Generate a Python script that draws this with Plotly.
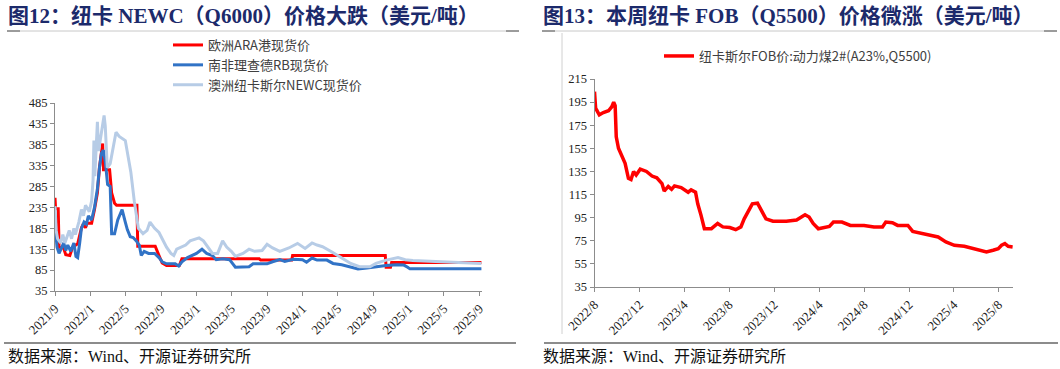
import plotly.graph_objects as go

# ---------------- Data: left chart (USD/t) ----------------
ara_dates = ["2021-09-01","2021-09-03","2021-09-12","2021-09-15","2021-10-01","2021-10-08","2021-10-22",
             "2021-11-01","2021-11-18","2021-12-01","2021-12-08","2021-12-15","2021-12-20","2022-01-05",
             "2022-01-15","2022-01-25","2022-02-01","2022-02-07","2022-02-12","2022-02-15","2022-03-08",
             "2022-03-15","2022-03-25","2022-04-01","2022-06-10","2022-06-13","2022-08-12","2022-08-25",
             "2022-09-05","2022-09-20","2022-11-03","2022-11-12","2023-08-05","2023-08-10","2023-11-25",
             "2023-11-28","2024-10-12","2024-10-15","2024-10-30","2024-11-03","2025-09-08"]
ara_vals = [258,232,232,140,137,122,120,
            140,148,186,196,186,197,197,
            230,270,330,370,388,325,325,
            270,245,240,240,142,142,120,
            102,96,96,112,112,109,109,
            120,120,92,92,103,103]

rb_dates = ["2021-09-01","2021-09-08","2021-09-15","2021-09-22","2021-10-01","2021-10-08","2021-10-15",
            "2021-10-25","2021-11-05","2021-11-12","2021-11-18","2021-11-25","2021-12-01","2021-12-10",
            "2021-12-18","2021-12-25","2022-01-05","2022-01-15","2022-01-25","2022-02-01","2022-02-08",
            "2022-02-15","2022-02-22","2022-03-01","2022-03-10","2022-03-15","2022-03-25","2022-04-05",
            "2022-04-20","2022-05-01","2022-05-08","2022-05-18","2022-05-28","2022-06-08","2022-06-18",
            "2022-06-25","2022-07-05","2022-07-20","2022-08-10","2022-08-25","2022-09-05","2022-09-20",
            "2022-10-20","2022-11-01","2022-11-12","2022-12-01","2022-12-15","2023-01-01","2023-01-20",
            "2023-02-05","2023-02-25","2023-03-10","2023-04-01","2023-04-25","2023-05-15","2023-06-15",
            "2023-07-01","2023-07-15","2023-09-01","2023-09-20","2023-10-15","2023-11-01","2023-12-01",
            "2024-01-01","2024-01-15","2024-02-03","2024-02-20","2024-03-25","2024-04-15","2024-05-15",
            "2024-06-20","2024-07-10","2024-08-10","2024-09-10","2024-10-15","2024-11-20","2024-12-15",
            "2024-12-28","2025-01-05","2025-09-08"]
rb_vals = [194,140,125,135,150,132,145,
           130,150,118,115,150,185,200,
           195,215,205,235,280,330,365,
           372,340,290,285,172,172,205,
           230,200,182,165,163,155,145,
           120,130,125,125,115,105,100,
           100,95,105,115,120,125,135,
           125,120,110,112,110,92,92,
           93,100,100,105,110,106,111,
           110,104,114,109,109,101,98,
           92,88,90,93,96,98,97,
           92,88,88]

newc_dates = ["2021-09-01","2021-09-05","2021-09-10","2021-09-20","2021-09-28","2021-10-05","2021-10-20",
              "2021-10-28","2021-11-05","2021-11-10","2021-11-22","2021-12-01","2021-12-08","2021-12-15",
              "2021-12-28","2022-01-05","2022-01-10","2022-01-13","2022-01-16","2022-01-25","2022-01-29",
              "2022-02-08","2022-02-17","2022-02-21","2022-02-28","2022-03-10","2022-03-30","2022-04-10",
              "2022-05-01","2022-05-20","2022-06-01","2022-06-15","2022-07-01","2022-07-15","2022-07-25",
              "2022-08-10","2022-08-25","2022-09-05","2022-09-20","2022-10-05","2022-10-15","2022-10-25",
              "2022-11-10","2022-11-25","2022-12-10","2022-12-25","2023-01-10","2023-01-25","2023-02-10",
              "2023-02-25","2023-03-15","2023-04-01","2023-04-15","2023-05-01","2023-05-15","2023-06-10",
              "2023-07-01","2023-07-20","2023-08-15","2023-09-01","2023-09-20","2023-10-15","2023-11-15",
              "2023-12-15","2024-01-10","2024-02-03","2024-02-20","2024-03-10","2024-04-10","2024-05-15",
              "2024-06-15","2024-07-15","2024-08-20","2024-09-10","2024-10-15","2024-11-25","2024-12-20",
              "2025-01-15","2025-05-01","2025-09-08"]
newc_vals = [238,180,160,150,170,150,180,
             160,185,170,200,230,215,240,
             225,250,300,395,310,440,370,
             420,455,430,330,340,415,405,
             395,320,250,185,172,180,200,
             185,175,160,140,125,120,135,
             140,145,155,158,162,155,140,
             125,125,155,140,130,118,125,
             135,130,132,147,138,130,138,
             149,137,150,145,141,129,113,
             101,93,93,101,109,115,110,
             108,105,101]

# ---------------- Data: right chart (USD/t) ----------------
fob_dates = ["2022-08-01","2022-08-04","2022-08-07","2022-08-14","2022-08-25","2022-09-08","2022-09-17",
             "2022-09-22","2022-09-26","2022-09-29","2022-10-05","2022-10-14","2022-10-23","2022-11-01",
             "2022-11-08","2022-11-15","2022-11-22","2022-12-03","2022-12-20","2023-01-04","2023-01-17",
             "2023-01-31","2023-02-06","2023-02-17","2023-02-26","2023-03-06","2023-03-24","2023-04-12",
             "2023-04-20","2023-05-02","2023-05-08","2023-05-17","2023-05-26","2023-06-14","2023-07-01",
             "2023-07-15","2023-08-03","2023-08-19","2023-09-02","2023-09-11","2023-09-23","2023-10-03",
             "2023-10-17","2023-10-23","2023-10-31","2023-11-09","2023-11-28","2024-01-03","2024-01-31",
             "2024-02-09","2024-02-23","2024-03-05","2024-03-16","2024-03-30","2024-04-12","2024-04-29",
             "2024-05-10","2024-06-02","2024-06-25","2024-08-01","2024-08-28","2024-09-20","2024-09-29",
             "2024-10-17","2024-10-31","2024-11-28","2024-12-11","2025-01-03","2025-01-31","2025-02-18",
             "2025-03-11","2025-04-03","2025-04-30","2025-05-27","2025-06-15","2025-06-29","2025-07-17",
             "2025-07-31","2025-08-09","2025-08-18","2025-08-27","2025-09-08"]
fob_vals = [204,190,188,184,186,187.5,191,
            195,192,165,155,148,142,129,
            128,135,132,137,135,131,129.5,
            124.5,118,122,119.5,122.5,121,117,
            119,117,107,97,85.5,85.5,90,
            87,86.5,84.6,87,94,101,107,
            107.5,104,98,94,92,92,93,
            94.6,97.5,95.5,90,85.4,86.3,87.4,
            91.2,91.2,88.3,88.3,86.9,86.9,91.2,
            90.6,88.3,88.3,83.1,81.7,79.7,78.3,
            74,71.1,70.2,68.2,66.2,65.4,66.8,
            68.2,71.1,72.5,70.2,69.7]

left_names = ["欧洲ARA港现货价", "南非理查德RB现货价", "澳洲纽卡斯尔NEWC现货价"]
right_name = "纽卡斯尔FOB价:动力煤2#(A23%,Q5500)"
title_left = "图12：纽卡 NEWC（Q6000）价格大跌（美元/吨）"
title_right = "图13：本周纽卡 FOB（Q5500）价格微涨（美元/吨）"
source_text = "数据来源：Wind、开源证券研究所"

W, H = 1060, 369
SERIF = "Liberation Serif, Noto Sans CJK SC"
CJK = "Noto Sans CJK SC"

def px(x):
    return x / W

def py(y):
    return 1 - y / H

fig = go.Figure()
fig.add_trace(go.Scatter(x=ara_dates, y=ara_vals, name=left_names[0], mode="lines",
                         line=dict(color="#FF0000", width=3), xaxis="x", yaxis="y", legend="legend"))
fig.add_trace(go.Scatter(x=rb_dates, y=rb_vals, name=left_names[1], mode="lines",
                         line=dict(color="#3173C6", width=3), xaxis="x", yaxis="y", legend="legend"))
fig.add_trace(go.Scatter(x=newc_dates, y=newc_vals, name=left_names[2], mode="lines",
                         line=dict(color="#B7CCE6", width=3), xaxis="x", yaxis="y", legend="legend"))
fig.add_trace(go.Scatter(x=fob_dates, y=fob_vals, name=right_name, mode="lines",
                         line=dict(color="#FF0000", width=3.5), xaxis="x2", yaxis="y2", legend="legend2"))

axis_common = dict(showgrid=False, zeroline=False, showline=True, linecolor="#8c8c8c", linewidth=1,
                   ticks="outside", ticklen=4, tickcolor="#8c8c8c", automargin=False)
xfont = dict(family="Liberation Serif", size=13, color="#222222")
yfont = dict(family="Liberation Serif", size=12.5, color="#222222")

fig.update_layout(
    template="none",
    width=W, height=H, margin=dict(l=0, r=0, t=0, b=0, autoexpand=False),
    paper_bgcolor="white", plot_bgcolor="white",
    xaxis=dict(domain=[px(55), px(482)], type="date", range=["2021-09-01", "2025-09-10"],
               dtick="M4", tick0="2021-09-01", tickformat="%Y/%-m", tickangle=-45,
               anchor="y", tickfont=xfont, **axis_common),
    yaxis=dict(domain=[py(291), py(103)], range=[35, 485], dtick=50, tick0=35,
               anchor="x", tickfont=yfont, **axis_common),
    xaxis2=dict(domain=[px(594.5), px(1013)], type="date", range=["2022-08-01", "2025-09-09"],
                dtick="M4", tick0="2022-08-01", tickformat="%Y/%-m", tickangle=-45,
                anchor="y2", tickfont=xfont, **axis_common),
    yaxis2=dict(domain=[py(287), py(79)], range=[35, 215], dtick=20, tick0=35,
                anchor="x2", tickfont=yfont, **axis_common),
    legend=dict(x=px(168), y=py(30), xanchor="left", yanchor="top", bgcolor="rgba(0,0,0,0)",
                font=dict(family=CJK, size=13, color="#404040"), tracegroupgap=0),
    legend2=dict(x=px(659), y=py(41), xanchor="left", yanchor="top", bgcolor="rgba(0,0,0,0)",
                 font=dict(family=CJK, size=13, color="#404040")),
    showlegend=True,
)

# Titles and source notes
for x0, t in [(6, title_left), (541, title_right)]:
    fig.add_annotation(x=px(x0), y=py(16), xref="paper", yref="paper", xanchor="left", yanchor="middle",
                       text="<b>" + t + "</b>", showarrow=False,
                       font=dict(family=SERIF, size=21, color="#1C2A6B"))
for x0 in [6, 541]:
    fig.add_annotation(x=px(x0), y=py(356), xref="paper", yref="paper", xanchor="left", yanchor="middle",
                       text=source_text, showarrow=False,
                       font=dict(family=SERIF, size=16, color="#111111"))

# Decorative rules
shapes = []
for a, b in [(7, 519), (542, 1057)]:
    shapes.append(dict(type="line", xref="paper", yref="paper", x0=px(a), x1=px(b), y0=py(31), y1=py(31),
                       line=dict(color="#c8c8c8", width=1)))
    shapes.append(dict(type="line", xref="paper", yref="paper", x0=px(a), x1=px(a + 13), y0=py(31), y1=py(31),
                       line=dict(color="#555555", width=1)))
    shapes.append(dict(type="line", xref="paper", yref="paper", x0=px(b - 13), x1=px(b), y0=py(31), y1=py(31),
                       line=dict(color="#555555", width=1)))
for a, b in [(4, 516), (544, 1058)]:
    shapes.append(dict(type="line", xref="paper", yref="paper", x0=px(a), x1=px(b), y0=py(343), y1=py(343),
                       line=dict(color="#8c8c8c", width=2)))
shapes.append(dict(type="line", xref="paper", yref="paper", x0=px(562), x1=px(562), y0=py(33), y1=py(334),
                   line=dict(color="#d0d0d0", width=1)))
fig.update_layout(shapes=shapes)

fig.write_html("out.html", config={"displayModeBar": False},
               post_script="document.body.style.margin='0';document.body.style.overflow='hidden';")
